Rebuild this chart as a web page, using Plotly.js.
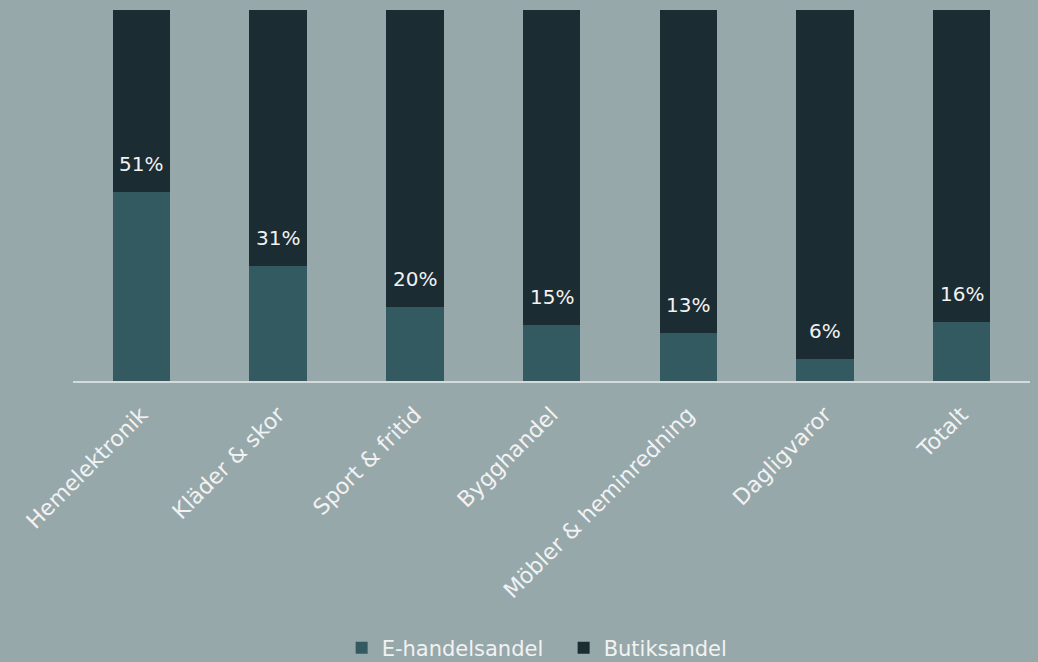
<!DOCTYPE html>
<html>
<head>
<meta charset="utf-8">
<script src="https://cdn.plot.ly/plotly-3.0.1.min.js"></script>
<style>html,body{margin:0;padding:0;background:#97a8ab;}#chart{width:1038px;height:662px;}</style>
</head>
<body>
<div id="chart"></div>
<script>
const categories = ["Hemelektronik", "Kläder & skor", "Sport & fritid", "Bygghandel", "Möbler & heminredning", "Dagligvaror", "Totalt"];
const eHandel = [51, 31, 20, 15, 13, 6, 16];
const butik = [49, 69, 80, 85, 87, 94, 84];
const eLabels = ["51%", "31%", "20%", "15%", "13%", "6%", "16%"];

const font = "DejaVu Sans, Liberation Sans, sans-serif";
const traces = [
  {type: "bar", name: "E-handelsandel", x: categories, y: eHandel, marker: {color: "#335a61"}, hoverinfo: "none"},
  {type: "bar", name: "Butiksandel", x: categories, y: butik, marker: {color: "#1b2c32"}, hoverinfo: "none"}
];
const annotations = categories.map((c, i) => ({
  x: c, y: eHandel[i], xref: "x", yref: "y", text: eLabels[i], showarrow: false,
  yanchor: "middle", yshift: 28, font: {family: font, size: 20, color: "#f2f2f2"}
}));
const layout = {
  width: 1038, height: 662,
  paper_bgcolor: "#97a8ab", plot_bgcolor: "#97a8ab",
  margin: {l: 73, r: 8, t: 10, b: 281, autoexpand: false},
  barmode: "stack", bargap: 0.58,
  showlegend: true,
  legend: {orientation: "h", x: 0.543, xanchor: "center", xref: "container", yref: "container", y: 0.021, yanchor: "middle",
    entrywidth: 177, entrywidthmode: "pixels",
    font: {family: font, size: 21, color: "#f2f2f2"}, traceorder: "normal"},
  xaxis: {tickangle: -45, automargin: false, tickfont: {family: font, size: 22, color: "#f2f2f2"}, showline: true, linecolor: "#d3dbdc", linewidth: 2, ticks: "", showgrid: false, ticklabelstandoff: 10},
  yaxis: {range: [0, 100], visible: false, showgrid: false, zeroline: false, automargin: false},
  annotations: annotations
};
Plotly.newPlot("chart", traces, layout, {displayModeBar: false, staticPlot: true});
</script>
</body>
</html>
